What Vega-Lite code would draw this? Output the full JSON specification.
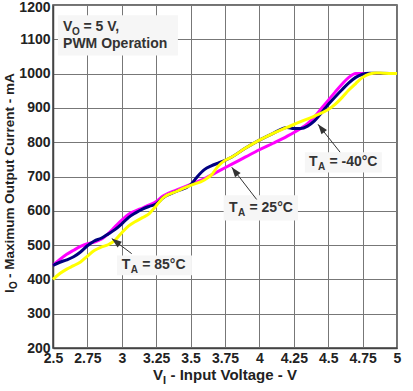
{
  "$schema": "https://vega.github.io/schema/vega-lite/v6.json",
  "width": 344,
  "height": 343,
  "autosize": {"type": "none"},
  "padding": {"left": 53, "top": 5, "right": 16, "bottom": 43},
  "background": "white",
  "config": {
    "font": "Liberation Sans",
    "view": {"stroke": "#444", "strokeWidth": 1.5},
    "axis": {
      "domainColor": "#444", "domainWidth": 1.5,
      "gridColor": "#777", "gridWidth": 1, "gridOpacity": 1,
      "ticks": false, "title": null,
      "labelFont": "Liberation Sans", "labelFontWeight": "bold", "labelFontSize": 14, "labelColor": "#222",
      "labelPadding": 3, "labelOverlap": false, "labelFlush": false, "labelBound": false
    }
  },
  "datasets": {
    "curves": [
      {"t": "25°C", "v": 2.5, "i": 441}, {"t": "25°C", "v": 2.55, "i": 458}, {"t": "25°C", "v": 2.6, "i": 473}, {"t": "25°C", "v": 2.65, "i": 485},
      {"t": "25°C", "v": 2.7, "i": 496}, {"t": "25°C", "v": 2.75, "i": 504}, {"t": "25°C", "v": 2.8, "i": 509}, {"t": "25°C", "v": 2.85, "i": 517},
      {"t": "25°C", "v": 2.9, "i": 533}, {"t": "25°C", "v": 2.95, "i": 553}, {"t": "25°C", "v": 3.0, "i": 573}, {"t": "25°C", "v": 3.05, "i": 590},
      {"t": "25°C", "v": 3.1, "i": 600}, {"t": "25°C", "v": 3.15, "i": 608}, {"t": "25°C", "v": 3.2, "i": 617}, {"t": "25°C", "v": 3.25, "i": 627},
      {"t": "25°C", "v": 3.3, "i": 643}, {"t": "25°C", "v": 3.4, "i": 661}, {"t": "25°C", "v": 3.5, "i": 677}, {"t": "25°C", "v": 3.6, "i": 694},
      {"t": "25°C", "v": 3.7, "i": 715}, {"t": "25°C", "v": 3.8, "i": 736}, {"t": "25°C", "v": 3.9, "i": 757}, {"t": "25°C", "v": 4.0, "i": 778},
      {"t": "25°C", "v": 4.1, "i": 797}, {"t": "25°C", "v": 4.2, "i": 817}, {"t": "25°C", "v": 4.3, "i": 840}, {"t": "25°C", "v": 4.35, "i": 854},
      {"t": "25°C", "v": 4.4, "i": 874}, {"t": "25°C", "v": 4.45, "i": 898}, {"t": "25°C", "v": 4.5, "i": 922}, {"t": "25°C", "v": 4.55, "i": 946},
      {"t": "25°C", "v": 4.6, "i": 969}, {"t": "25°C", "v": 4.65, "i": 989}, {"t": "25°C", "v": 4.7, "i": 1000}, {"t": "25°C", "v": 4.75, "i": 1000},
      {"t": "25°C", "v": 4.85, "i": 1000}, {"t": "25°C", "v": 5.0, "i": 1000},
      {"t": "-40°C", "v": 2.5, "i": 441}, {"t": "-40°C", "v": 2.55, "i": 450}, {"t": "-40°C", "v": 2.6, "i": 457}, {"t": "-40°C", "v": 2.65, "i": 466},
      {"t": "-40°C", "v": 2.7, "i": 480}, {"t": "-40°C", "v": 2.75, "i": 498}, {"t": "-40°C", "v": 2.8, "i": 512}, {"t": "-40°C", "v": 2.85, "i": 520},
      {"t": "-40°C", "v": 2.9, "i": 532}, {"t": "-40°C", "v": 2.95, "i": 545}, {"t": "-40°C", "v": 3.0, "i": 562}, {"t": "-40°C", "v": 3.05, "i": 581},
      {"t": "-40°C", "v": 3.1, "i": 594}, {"t": "-40°C", "v": 3.15, "i": 605}, {"t": "-40°C", "v": 3.2, "i": 613}, {"t": "-40°C", "v": 3.25, "i": 620},
      {"t": "-40°C", "v": 3.3, "i": 638}, {"t": "-40°C", "v": 3.4, "i": 657}, {"t": "-40°C", "v": 3.5, "i": 676}, {"t": "-40°C", "v": 3.55, "i": 700},
      {"t": "-40°C", "v": 3.6, "i": 720}, {"t": "-40°C", "v": 3.65, "i": 731}, {"t": "-40°C", "v": 3.7, "i": 739}, {"t": "-40°C", "v": 3.75, "i": 747},
      {"t": "-40°C", "v": 3.8, "i": 757}, {"t": "-40°C", "v": 3.9, "i": 783}, {"t": "-40°C", "v": 4.0, "i": 806}, {"t": "-40°C", "v": 4.1, "i": 826},
      {"t": "-40°C", "v": 4.2, "i": 843}, {"t": "-40°C", "v": 4.25, "i": 840}, {"t": "-40°C", "v": 4.3, "i": 840}, {"t": "-40°C", "v": 4.35, "i": 847},
      {"t": "-40°C", "v": 4.4, "i": 862}, {"t": "-40°C", "v": 4.45, "i": 885}, {"t": "-40°C", "v": 4.5, "i": 910}, {"t": "-40°C", "v": 4.55, "i": 932},
      {"t": "-40°C", "v": 4.6, "i": 953}, {"t": "-40°C", "v": 4.65, "i": 973}, {"t": "-40°C", "v": 4.7, "i": 989}, {"t": "-40°C", "v": 4.75, "i": 998},
      {"t": "-40°C", "v": 4.8, "i": 1001}, {"t": "-40°C", "v": 4.85, "i": 1001}, {"t": "-40°C", "v": 5.0, "i": 1000},
      {"t": "85°C", "v": 2.5, "i": 400}, {"t": "85°C", "v": 2.55, "i": 417}, {"t": "85°C", "v": 2.6, "i": 430}, {"t": "85°C", "v": 2.65, "i": 440},
      {"t": "85°C", "v": 2.7, "i": 451}, {"t": "85°C", "v": 2.75, "i": 468}, {"t": "85°C", "v": 2.8, "i": 484}, {"t": "85°C", "v": 2.85, "i": 494},
      {"t": "85°C", "v": 2.9, "i": 501}, {"t": "85°C", "v": 2.95, "i": 514}, {"t": "85°C", "v": 3.0, "i": 536}, {"t": "85°C", "v": 3.05, "i": 556},
      {"t": "85°C", "v": 3.1, "i": 569}, {"t": "85°C", "v": 3.15, "i": 580}, {"t": "85°C", "v": 3.2, "i": 592}, {"t": "85°C", "v": 3.25, "i": 615},
      {"t": "85°C", "v": 3.3, "i": 638}, {"t": "85°C", "v": 3.4, "i": 657}, {"t": "85°C", "v": 3.5, "i": 674}, {"t": "85°C", "v": 3.6, "i": 690},
      {"t": "85°C", "v": 3.65, "i": 704}, {"t": "85°C", "v": 3.7, "i": 730}, {"t": "85°C", "v": 3.75, "i": 747}, {"t": "85°C", "v": 3.8, "i": 757},
      {"t": "85°C", "v": 3.9, "i": 783}, {"t": "85°C", "v": 4.0, "i": 806}, {"t": "85°C", "v": 4.1, "i": 826}, {"t": "85°C", "v": 4.2, "i": 843},
      {"t": "85°C", "v": 4.3, "i": 860}, {"t": "85°C", "v": 4.4, "i": 876}, {"t": "85°C", "v": 4.5, "i": 895}, {"t": "85°C", "v": 4.55, "i": 910},
      {"t": "85°C", "v": 4.6, "i": 930}, {"t": "85°C", "v": 4.65, "i": 952}, {"t": "85°C", "v": 4.7, "i": 971}, {"t": "85°C", "v": 4.75, "i": 989},
      {"t": "85°C", "v": 4.8, "i": 999}, {"t": "85°C", "v": 4.85, "i": 1002}, {"t": "85°C", "v": 4.9, "i": 1001}, {"t": "85°C", "v": 5.0, "i": 1000}
    ],
    "boxes": [
      {"v": 2.536, "v2": 3.408, "i": 1170, "i2": 1053},
      {"v": 4.33, "v2": 4.89, "i": 771, "i2": 712},
      {"v": 3.74, "v2": 4.28, "i": 645, "i2": 572},
      {"v": 2.965, "v2": 3.51, "i": 470, "i2": 412}
    ],
    "arrows": [
      {"label": "-40", "v": 4.426, "i": 852, "v2": 4.586, "i2": 771},
      {"label": "25", "v": 3.799, "i": 727, "v2": 3.98, "i2": 633},
      {"label": "85", "v": 2.927, "i": 519, "v2": 3.072, "i2": 475}
    ],
    "notes": [
      {"v": 2.573, "i": 1123, "t1": "V", "t2": "O", "t3": "= 5 V,"},
      {"v": 2.573, "i": 1074, "t1": "PWM Operation", "t2": "", "t3": ""},
      {"v": 4.36, "i": 730, "t1": "T", "t2": "A", "t3": "= -40°C"},
      {"v": 3.779, "i": 596, "t1": "T", "t2": "A", "t3": "= 25°C"},
      {"v": 2.999, "i": 429, "t1": "T", "t2": "A", "t3": "= 85°C"}
    ],
    "xt": [{"v": 3.227, "i": 106, "t1": "V", "t2": "I", "t3": "- Input Voltage - V"}],
    "yt": [{"v": 2.213, "i": 360, "t1": "I", "t2": "O", "t3": "- Maximum Output Current - mA"}]
  },
  "encoding": {
    "x": {"field": "v", "type": "quantitative", "scale": {"domain": [2.5, 5], "nice": false, "zero": false},
      "axis": {"values": [2.5, 2.75, 3, 3.25, 3.5, 3.75, 4, 4.25, 4.5, 4.75, 5], "format": ".2~f"}},
    "y": {"field": "i", "type": "quantitative", "scale": {"domain": [200, 1200], "nice": false, "zero": false},
      "axis": {"values": [200, 300, 400, 500, 600, 700, 800, 900, 1000, 1100, 1200], "format": "d",
        "labelOffset": {"condition": {"test": "datum.value == 1200", "value": 2.5}, "value": 0}}}
  },
  "layer": [
    {"data": {"name": "boxes"}, "mark": {"type": "rect", "fill": "#f6f6f6"},
      "encoding": {"x2": {"field": "v2"}, "y2": {"field": "i2"}}},
    {"data": {"name": "curves"}, "mark": {"type": "line", "strokeWidth": 3, "interpolate": "monotone"},
      "encoding": {"color": {"field": "t", "type": "nominal", "legend": null,
        "scale": {"domain": ["25°C", "-40°C", "85°C"], "range": ["#ff00ff", "#000080", "#ffff00"]}}}},
    {"data": {"name": "arrows"}, "mark": {"type": "rule", "color": "#333", "strokeWidth": 1},
      "encoding": {"x2": {"field": "v2"}, "y2": {"field": "i2"}}},
    {"data": {"name": "arrows"}, "transform": [{"filter": "datum.label == '-40'"}],
      "mark": {"type": "point", "shape": "M0,0L-0.35,1L0.35,1Z", "size": 400, "filled": true, "color": "#333", "opacity": 1, "angle": 321.5}},
    {"data": {"name": "arrows"}, "transform": [{"filter": "datum.label == '25'"}],
      "mark": {"type": "point", "shape": "M0,0L-0.35,1L0.35,1Z", "size": 400, "filled": true, "color": "#333", "opacity": 1, "angle": 322.4}},
    {"data": {"name": "arrows"}, "transform": [{"filter": "datum.label == '85'"}],
      "mark": {"type": "point", "shape": "M0,0L-0.35,1L0.35,1Z", "size": 400, "filled": true, "color": "#333", "opacity": 1, "angle": 307.2}},
    {"data": {"name": "notes"}, "mark": {"type": "text", "align": "left", "baseline": "alphabetic", "fontSize": 14, "fontWeight": "bold", "color": "#333"},
      "encoding": {"text": {"field": "t1"}}},
    {"data": {"name": "notes"}, "mark": {"type": "text", "align": "left", "baseline": "alphabetic", "fontSize": 10, "fontWeight": "bold", "color": "#333", "dx": 9, "dy": 3.5},
      "encoding": {"text": {"field": "t2"}}},
    {"data": {"name": "notes"}, "mark": {"type": "text", "align": "left", "baseline": "alphabetic", "fontSize": 14, "fontWeight": "bold", "color": "#333", "dx": 20.5},
      "encoding": {"text": {"field": "t3"}}},
    {"data": {"name": "xt"}, "mark": {"type": "text", "align": "left", "baseline": "alphabetic", "fontSize": 15, "fontWeight": "bold", "color": "#222"},
      "encoding": {"text": {"field": "t1"}}},
    {"data": {"name": "xt"}, "mark": {"type": "text", "align": "left", "baseline": "alphabetic", "fontSize": 11, "fontWeight": "bold", "color": "#222", "dx": 10, "dy": 4},
      "encoding": {"text": {"field": "t2"}}},
    {"data": {"name": "xt"}, "mark": {"type": "text", "align": "left", "baseline": "alphabetic", "fontSize": 15, "fontWeight": "bold", "color": "#222", "dx": 17.5},
      "encoding": {"text": {"field": "t3"}}},
    {"data": {"name": "yt"}, "mark": {"type": "text", "align": "left", "baseline": "alphabetic", "angle": 270, "fontSize": 13.5, "fontWeight": "bold", "color": "#222"},
      "encoding": {"text": {"field": "t1"}}},
    {"data": {"name": "yt"}, "mark": {"type": "text", "align": "left", "baseline": "alphabetic", "angle": 270, "fontSize": 10, "fontWeight": "bold", "color": "#222", "dx": 4, "dy": 3},
      "encoding": {"text": {"field": "t2"}}},
    {"data": {"name": "yt"}, "mark": {"type": "text", "align": "left", "baseline": "alphabetic", "angle": 270, "fontSize": 13.5, "fontWeight": "bold", "color": "#222", "dx": 15.2},
      "encoding": {"text": {"field": "t3"}}}
  ]
}
